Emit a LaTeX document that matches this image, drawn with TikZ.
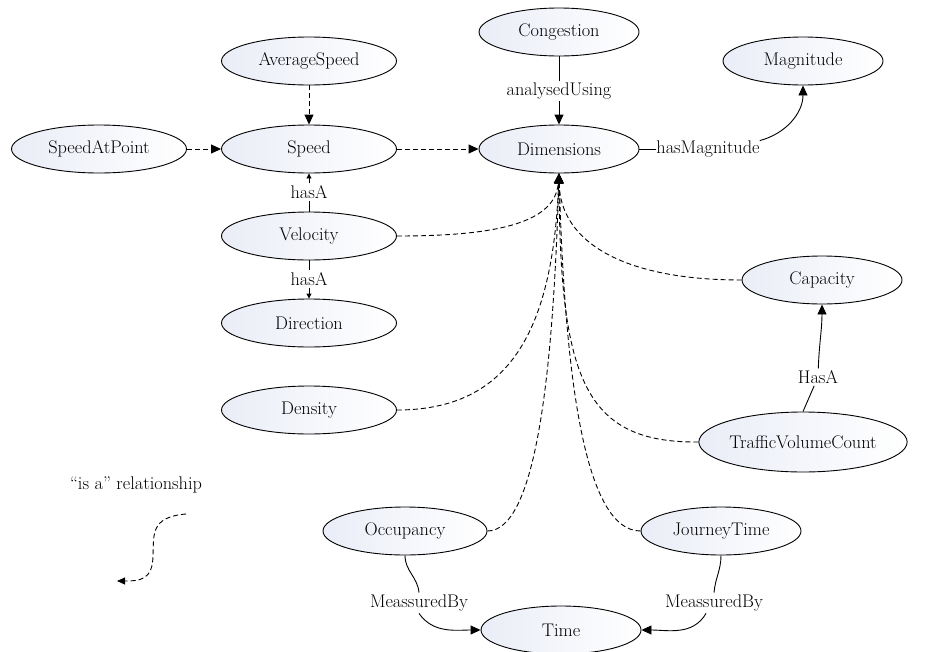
\documentclass[tikz,border=0pt]{standalone}
\usetikzlibrary{shapes.geometric,arrows.meta}

\definecolor{lav}{RGB}{234,237,247}

\tikzset{
  concept/.style={ellipse,draw,line width=0.9pt,minimum width=175pt,minimum height=48pt,
    inner sep=0pt,left color=lav,right color=white,font=\fontsize{18.3}{22}\selectfont},
  lbl/.style={inner sep=2pt,font=\fontsize{18.3}{22}\selectfont},
  isa/.style={dashed,dash pattern=on 5pt off 3pt,line width=0.9pt,-{Triangle[length=10pt,width=9pt]}},
  rel/.style={line width=0.9pt,-{Triangle[length=10pt,width=9pt]}},
  relsmall/.style={line width=0.9pt,-{Triangle[length=5pt,width=5pt]}}
}

\begin{document}
\begin{tikzpicture}[x=1pt,y=-1pt]
  \useasboundingbox (0,0) rectangle (951,651);
  % concepts
  \node[concept] (avgspeed) at (309,61) {AverageSpeed};
  \node[concept] (speed) at (309,149) {Speed};
  \node[concept] (speedpt) at (99,149) {SpeedAtPoint};
  \node[concept] (velocity) at (309,236) {Velocity};
  \node[concept] (direction) at (309,323) {Direction};
  \node[concept] (density) at (309,410) {Density};
  \node[concept,minimum width=160pt] (congestion) at (559,32) {Congestion};
  \node[concept,minimum width=160pt] (dims) at (559,149) {Dimensions};
  \node[concept,minimum width=160pt] (magnitude) at (803,61) {Magnitude};
  \node[concept,minimum width=160pt] (capacity) at (822,280) {Capacity};
  \node[concept,minimum width=196pt,minimum height=60pt] (tvc) at (803,442) {TrafficVolumeCount};
  \node[concept,minimum width=164pt] (occupancy) at (405,531) {Occupancy};
  \node[concept,minimum width=160pt] (journey) at (721,531) {JourneyTime};
  \node[concept,minimum width=160pt] (time) at (561,630) {Time};

  % "is a" links
  \draw[isa] (avgspeed) -- (speed);
  \draw[isa] (speedpt) -- (speed);
  \draw[isa] (speed) -- (dims);
  \draw[isa] (velocity.east) .. controls (490,236) and (555,225) .. (dims.south);
  \draw[isa] (density.east) .. controls (510,410) and (553,330) .. (dims.south);
  \draw[isa] (capacity.west) .. controls (620,280) and (560,240) .. (dims.south);
  \draw[isa] (tvc.west) .. controls (585,443) and (560,380) .. (dims.south);
  \draw[isa] (occupancy.east) .. controls (535,531) and (553,380) .. (dims.south);
  \draw[isa] (journey.west) .. controls (585,531) and (565,380) .. (dims.south);

  % labelled links
  \node[lbl] (hasA1) at (309,192) {hasA};
  \draw[line width=0.9pt] (velocity) -- (hasA1);
  \draw[relsmall] (hasA1) -- (speed);
  \node[lbl] (hasA2) at (309,279) {hasA};
  \draw[line width=0.9pt] (velocity) -- (hasA2);
  \draw[relsmall] (hasA2) -- (direction);
  \node[lbl] (analysed) at (559,91) {analysedUsing};
  \draw[line width=0.9pt] (congestion) -- (analysed);
  \draw[rel] (analysed) -- (dims);
  \node[lbl,inner sep=0pt] (hasMag) at (708,149) {hasMagnitude};
  \draw[line width=0.9pt] (dims.east) -- (hasMag.west);
  \draw[rel] (hasMag.north east) to[out=15,in=-90] (magnitude.south);
  \node[lbl] (hasA3) at (818,377) {HasA};
  \draw[line width=0.9pt] (tvc.north) -- (hasA3);
  \draw[rel] (hasA3) to[out=88,in=-90] (capacity.south);
  \node[lbl] (meas1) at (419,603) {MeassuredBy};
  \draw[line width=0.9pt] (occupancy.south) to[out=-90,in=95] (meas1.north);
  \draw[rel] (meas1.south) to[out=-55,in=180] (time.west);
  \node[lbl] (meas2) at (714,603) {MeassuredBy};
  \draw[line width=0.9pt] (journey.south) to[out=-90,in=85] (meas2.north);
  \draw[rel] (meas2.south -| 706,0) to[out=-120,in=0] (time.east);

  % legend
  \node[lbl] (legend) at (136,485) {``is a'' relationship};
  \coordinate (lgstart) at (186,514);
  \coordinate (lgend) at (117,581);
  \draw[dashed,dash pattern=on 5pt off 3pt,line width=0.9pt,-{Triangle[length=8pt,width=7pt]}]
    (lgstart) .. controls (150,517) and (154,535) .. (153,555)
    .. controls (153,580) and (140,581) .. (lgend);
\end{tikzpicture}
\end{document}
